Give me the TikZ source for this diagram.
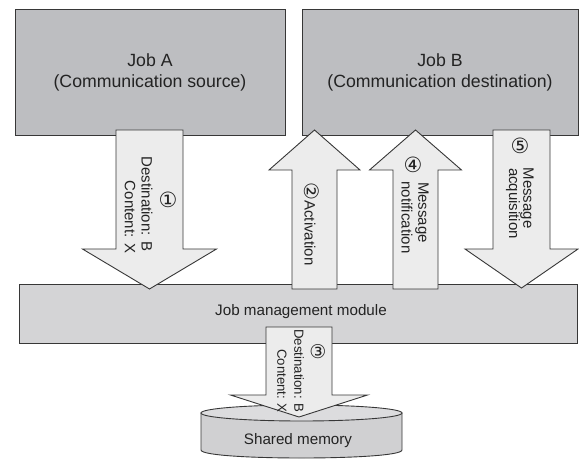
\documentclass[tikz,border=0pt]{standalone}
\usepackage{fontspec}
\setmainfont{Liberation Sans}
\newfontfamily\circfont{DejaVu Sans}

\definecolor{jobgray}{RGB}{189,190,193}
\definecolor{modgray}{RGB}{212,212,214}
\definecolor{arrowfill}{RGB}{236,236,236}
\definecolor{cylbody}{RGB}{208,208,210}
\definecolor{cyltopfill}{RGB}{220,220,222}
\definecolor{edgegray}{RGB}{55,55,55}
\definecolor{ink}{RGB}{35,35,35}

% block arrow: x centre, tail y, head-base y, tip y, shaft half width, head half width
\newcommand\blockarrow[6]{%
  \filldraw[arrowshape] (#1-#5,#2) -- (#1+#5,#2) -- (#1+#5,#3) -- (#1+#6,#3)
    -- (#1,#4) -- (#1-#6,#3) -- (#1-#5,#3) -- cycle;}

\tikzset{
  outline/.style={draw=edgegray, line width=0.9bp},
  jobbox/.style={outline, fill=jobgray, inner sep=0pt, align=center,
    text=ink, font=\fontsize{17.7bp}{21bp}\selectfont},
  modbox/.style={outline, fill=modgray, inner sep=0pt},
  arrowshape/.style={outline, fill=arrowfill, line join=miter},
  vlabel/.style={rotate=-90, inner sep=0pt, text=ink,
    font=\fontsize{15bp}{16bp}\selectfont},
  vsmall/.style={rotate=-90, inner sep=0pt, text=ink,
    font=\fontsize{13.2bp}{14bp}\selectfont},
  circnum/.style={inner sep=0pt, text=ink, font=\circfont\fontsize{21bp}{22bp}\selectfont},
  plainlabel/.style={inner sep=0pt, text=ink, font=\fontsize{15.2bp}{17bp}\selectfont},
}

\begin{document}
\begin{tikzpicture}[x=1bp, y=-1bp]
  \useasboundingbox (0,0) rectangle (579,461);

  % jobs
  \node[jobbox, minimum width=270bp, minimum height=126bp] (jobA) at (150,72)
    {Job A\\(Communication source)};
  \node[jobbox, minimum width=276bp, minimum height=126bp] (jobB) at (440,72)
    {Job B\\(Communication destination)};

  % job management module
  \node[modbox, minimum width=558bp, minimum height=59bp] (jmm) at (298,313.5) {};
  \node[plainlabel] (jmmtext) at (301,312) {Job management module};

  % shared memory cylinder
  \filldraw[outline, fill=cylbody] (201,413) -- (201,450)
    .. controls (201,460.67) and (402,460.67) .. (402,450) -- (402,413) -- cycle;
  \filldraw[outline, fill=cyltopfill] (301.5,413) ellipse [x radius=100.5, y radius=8];
  \node[plainlabel] (shm) at (298,441) {Shared memory};

  % flows between jobs, module and memory
  \blockarrow{149.5}{130}{249}{289}{33.5}{67}
  \blockarrow{314.5}{289}{170}{130}{22.5}{45.5}
  \blockarrow{415.5}{289}{170}{130}{22.5}{46}
  \blockarrow{521.5}{130}{249}{288}{28.5}{56.5}
  \blockarrow{299}{327}{395}{417}{33}{68.5}

  % (1) send
  \node[circnum] (n1) at (168,200) {①};
  \node[vlabel] (dest1) at (147,204) {Destination: B};
  \node[vlabel] (cont1) at (130,217) {Content: X};

  % (2) activation
  \node[vlabel] (act) at (312,224) {{\circfont\fontsize{20bp}{20bp}\selectfont ②}Activation};

  % (3) store
  \node[circnum, font=\circfont\fontsize{19bp}{20bp}\selectfont] (n3) at (318,352) {③};
  \node[vsmall] (dest3) at (299,371) {Destination: B};
  \node[vsmall] (cont3) at (282,381) {Content: X};

  % (4) notification
  \node[circnum] (n4) at (413,165) {④};
  \node[vlabel] (msg4) at (422,212.5) {Message};
  \node[vlabel] (notif) at (407,217.5) {notification};

  % (5) acquisition
  \node[circnum] (n5) at (520,146) {⑤};
  \node[vlabel] (msg5) at (527,198) {Message};
  \node[vlabel] (acq) at (513,203.5) {acquisition};
\end{tikzpicture}
\end{document}
